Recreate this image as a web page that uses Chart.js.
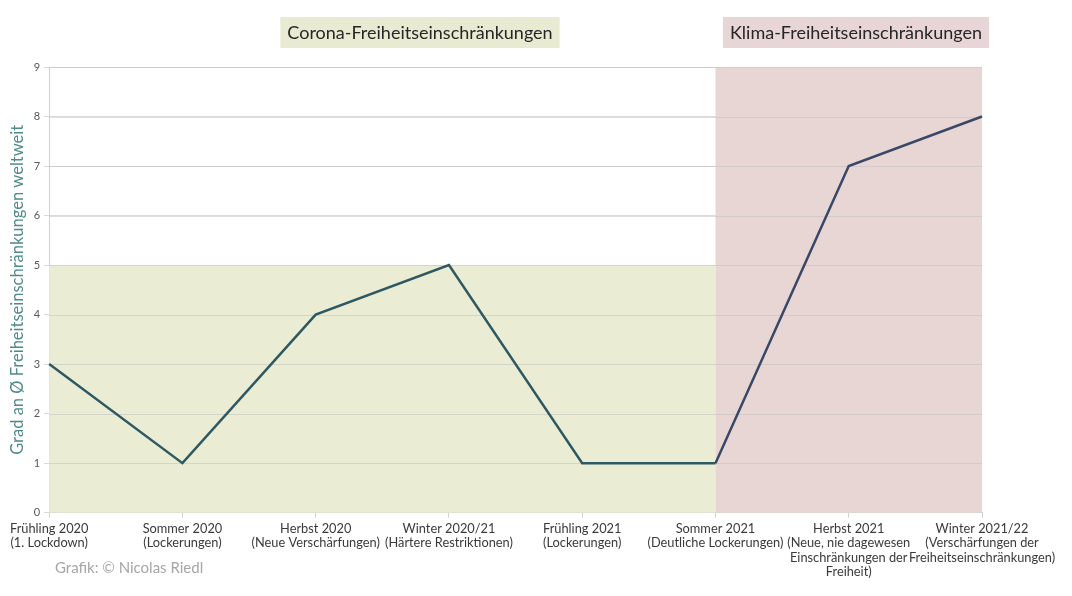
<!DOCTYPE html>
<html lang="de">
<head>
    <meta charset="UTF-8">
    <script src="https://cdn.jsdelivr.net/npm/chart.js"></script>
    <style>
        body { margin: 0; padding: 0; background: #ffffff; }
        .chart-container { position: relative; width: 1072px; height: 596px; }
    </style>
</head>
<body>
    <div class="chart-container">
        <canvas id="myChart" width="1072" height="596"></canvas>
    </div>

    <script>
        // --- DATA ---
        const seasons = [
            ['Frühling 2020', '(1. Lockdown)'],
            ['Sommer 2020', '(Lockerungen)'],
            ['Herbst 2020', '(Neue Verschärfungen)'],
            ['Winter 2020/21', '(Härtere Restriktionen)'],
            ['Frühling 2021', '(Lockerungen)'],
            ['Sommer 2021', '(Deutliche Lockerungen)'],
            ['Herbst 2021', '(Neue, nie dagewesen', 'Einschränkungen der', 'Freiheit)'],
            ['Winter 2021/22', '(Verschärfungen der', 'Freiheitseinschränkungen)']
        ];
        const restrictionLevel = [3, 1, 4, 5, 1, 1, 7, 8];

        // phases: [first index, last index, top value, title]
        const coronaPhase = [0, 5, 5, 'Corona-Freiheitseinschränkungen'];
        const klimaPhase = [5, 7, 9, 'Klima-Freiheitseinschränkungen'];

        const FONT = 'Lato, "Open Sans", sans-serif';

        // --- PLUGIN: phase bands + titles + credit ---
        const phaseBands = {
            id: 'phaseBands',
            beforeDatasetsDraw(chart) {
                const { ctx, scales: { x, y } } = chart;
                const bands = [
                    [coronaPhase, '#eaecd4'],
                    [klimaPhase, '#e8d6d5']
                ];
                ctx.save();
                bands.forEach(([p, color]) => {
                    const x0 = x.getPixelForValue(p[0]);
                    const x1 = x.getPixelForValue(p[1]);
                    const yTop = y.getPixelForValue(p[2]);
                    const yBot = y.getPixelForValue(0);
                    ctx.fillStyle = color;
                    ctx.fillRect(x0, yTop, x1 - x0, yBot - yTop);
                });
                // grid lines stay faintly visible on the bands
                ctx.strokeStyle = 'rgba(190,190,190,0.5)';
                ctx.lineWidth = 1;
                for (let v = 1; v <= 9; v++) {
                    const py = Math.round(y.getPixelForValue(v)) + 0.5;
                    ctx.beginPath();
                    ctx.moveTo(x.left, py);
                    ctx.lineTo(x.right, py);
                    ctx.stroke();
                }
                ctx.restore();
            },
            afterDraw(chart) {
                const { ctx } = chart;
                ctx.save();
                ctx.font = '18px ' + FONT;
                ctx.textBaseline = 'middle';
                ctx.textAlign = 'center';
                const titles = [
                    [coronaPhase[3], 420, '#e8ebd2'],
                    [klimaPhase[3], 856, '#e8d5d5']
                ];
                titles.forEach(([text, cx, bg]) => {
                    const w = ctx.measureText(text).width + 14;
                    ctx.fillStyle = bg;
                    ctx.fillRect(cx - w / 2, 17, w, 31);
                    ctx.fillStyle = '#262626';
                    ctx.fillText(text, cx, 33);
                });
                ctx.textAlign = 'left';
                ctx.font = '15px ' + FONT;
                ctx.fillStyle = '#a6a6a6';
                ctx.fillText('Grafik: © Nicolas Riedl', 55, 568);
                ctx.restore();
            }
        };

        const ctx = document.getElementById('myChart').getContext('2d');
        new Chart(ctx, {
            type: 'line',
            data: {
                labels: seasons,
                datasets: [{
                    data: restrictionLevel,
                    borderColor: '#2f5962',
                    borderWidth: 2.5,
                    pointRadius: 0,
                    tension: 0,
                    segment: {
                        borderColor: c => c.p0DataIndex >= 5 ? '#3a4868' : '#2f5962'
                    }
                }]
            },
            options: {
                responsive: false,
                animation: false,
                maintainAspectRatio: false,
                layout: {
                    padding: { left: 8, right: 90, top: 67, bottom: 13 }
                },
                scales: {
                    x: {
                        offset: false,
                        grid: {
                            display: true,
                            drawOnChartArea: false,
                            tickLength: 5,
                            color: '#d0d0d0'
                        },
                        border: { color: '#d0d0d0' },
                        ticks: {
                            autoSkip: false,
                            maxRotation: 0,
                            minRotation: 0,
                            padding: 4,
                            color: '#3a3a3a',
                            font: { family: FONT, size: 12.8, lineHeight: 1.12 }
                        }
                    },
                    y: {
                        min: 0,
                        max: 9,
                        ticks: {
                            stepSize: 1,
                            padding: 4,
                            color: '#595959',
                            font: { family: FONT, size: 11 }
                        },
                        grid: { color: '#dadada', tickLength: 5 },
                        border: { color: '#d0d0d0' },
                        title: {
                            display: true,
                            text: 'Grad an Ø Freiheitseinschränkungen weltweit',
                            color: '#4f8a8b',
                            padding: { top: 0, bottom: 2 },
                            font: { family: FONT, size: 16.5 }
                        }
                    }
                },
                plugins: {
                    legend: { display: false },
                    tooltip: { enabled: false }
                }
            },
            plugins: [phaseBands]
        });
    </script>
</body>
</html>
